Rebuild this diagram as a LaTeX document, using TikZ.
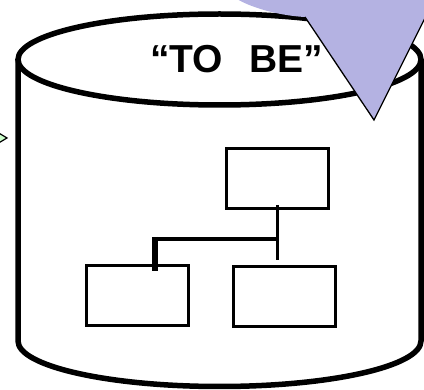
\documentclass[tikz,border=0pt]{standalone}
\usepackage{fontspec}
\setmainfont{Liberation Sans}
\definecolor{lav}{RGB}{180,178,226}
\definecolor{pgreen}{RGB}{204,255,204}
\begin{document}
\begin{tikzpicture}[x=1pt,y=-1pt,
  box/.style={draw, line width=3pt, minimum width=102pt, minimum height=60pt, inner sep=0pt, outer sep=0pt},
  cyl/.style={line width=5.5pt},
  link/.style={line width=2.5pt}]
\useasboundingbox (0,0) rectangle (424,390);
\clip (0,0) rectangle (424,390);
% cylinder
\draw[cyl] (18,59.5) -- (18,341) arc[start angle=180,end angle=0,x radius=201.5,y radius=45.5] -- (421,59.5);
\draw[cyl, fill=white] (219.5,59.5) ellipse [x radius=201.5, y radius=45.5];
% boxes
\node[box] (top) at (277.5,178.5) {};
\node[box] (left) at (137,295.5) {};
\node[box] (right) at (284,297) {};
% connectors
\coordinate (j) at (top.south |- 0,239);
\coordinate (k) at (155,239);
\draw[link] ([yshift=3.5pt]top.south) -- ([yshift=-51.5pt]top.south);
\draw[line width=3.5pt] (j) -- (k-|153,0);
\draw[line width=6pt] ([yshift=2pt]k) -- (k |- left.north) -- ++(0,6);
% title
\node[anchor=base west, inner sep=0pt, font=\bfseries\fontsize{39}{39}\selectfont] (title) at (150,72.5) {“TO\hspace{0.68em}BE”};
% callout
\fill[lav] (235,-2) .. controls (255,10) and (285,16) .. (305,17) -- (374,120) -- (435,-2) -- cycle;
\draw[line width=1.3pt, line join=miter] (305,17) -- (374,120) -- (435,-2);
% incoming arrow tip
\filldraw[fill=pgreen, draw=black, line width=1.2pt] (-3,132) -- (7,138) -- (-3,144);
\end{tikzpicture}
\end{document}
